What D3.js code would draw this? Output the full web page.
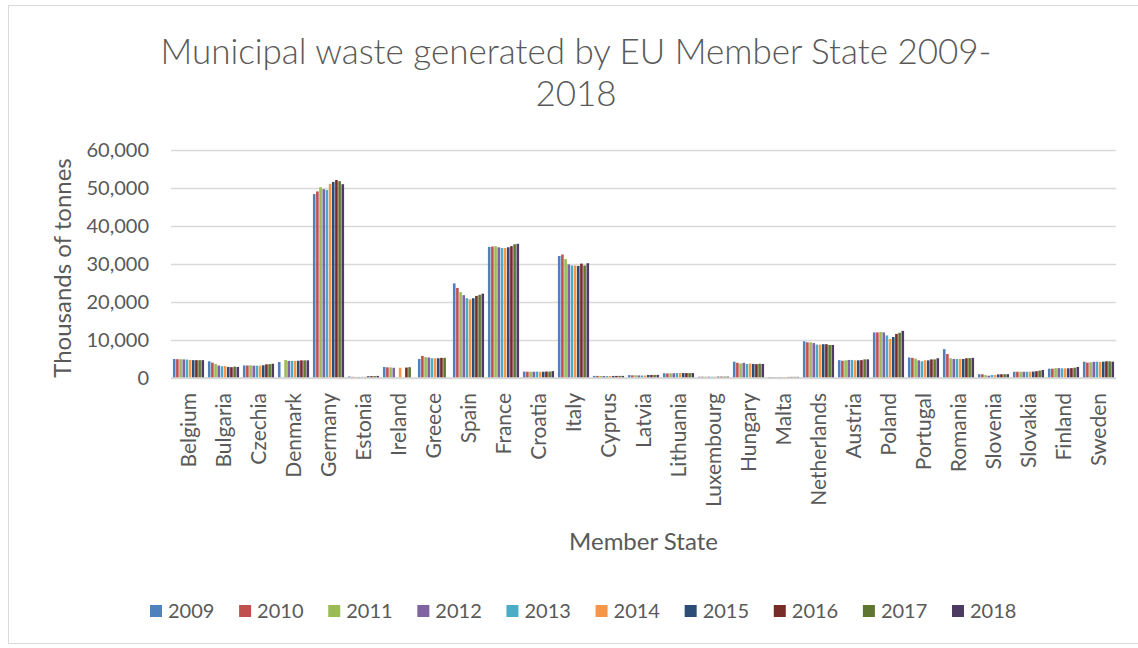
<!DOCTYPE html>
<html>
<head>
<meta charset="utf-8">
<script src="https://cdn.jsdelivr.net/npm/d3@7"></script>
<style>
  html, body { margin: 0; padding: 0; background: #ffffff; }
  svg { display: block; font-family: Lato, "Open Sans", sans-serif; }
</style>
</head>
<body>
<svg id="chart" width="1138" height="648"></svg>
<script>
// Municipal waste generated, thousands of tonnes, by member state and year
const states = ["Belgium", "Bulgaria", "Czechia", "Denmark", "Germany", "Estonia", "Ireland", "Greece",
  "Spain", "France", "Croatia", "Italy", "Cyprus", "Latvia", "Lithuania", "Luxembourg", "Hungary",
  "Malta", "Netherlands", "Austria", "Poland", "Portugal", "Romania", "Slovenia", "Slovakia",
  "Finland", "Sweden"];

const years = ["2009", "2010", "2011", "2012", "2013", "2014", "2015", "2016", "2017", "2018"];

const yearColors = ["#4F81BD", "#C0504D", "#9BBB59", "#8064A2", "#4BACC6",
  "#F79646", "#2C4D75", "#772C2A", "#5F7530", "#4D3B62"];

// One row per state, one value per year (null = not reported)
const belgium     = [5000, 4950, 4950, 4900, 4850, 4750, 4700, 4700, 4700, 4700];
const bulgaria    = [4400, 4050, 3700, 3300, 3100, 3150, 2900, 2850, 3000, 2900];
const czechia     = [3300, 3300, 3350, 3250, 3250, 3250, 3350, 3600, 3650, 3750];
const denmark     = [4200, null, 4750, 4500, 4500, 4500, 4550, 4650, 4650, 4650];
const germany     = [48400, 49100, 50200, 49700, 49500, 51100, 51600, 52100, 51800, 51000];
const estonia     = [400, 310, 300, 280, 300, 330, 470, 490, 510, 550];
const ireland     = [2900, 2800, 2800, 2700, null, 2700, null, 2750, 2850, null];
const greece      = [5000, 5800, 5500, 5400, 5200, 5200, 5200, 5300, 5300, null];
const spain       = [24900, 23700, 22600, 21800, 21000, 20700, 21000, 21600, 21900, 22200];
const france      = [34500, 34600, 34700, 34400, 34200, 34200, 34400, 34700, 35200, 35300];
const croatia     = [1700, 1650, 1650, 1650, 1700, 1650, 1650, 1700, 1700, 1800];
const italy       = [32100, 32500, 31300, 29900, 29600, 29600, 29500, 30100, 29600, 30200];
const cyprus      = [550, 550, 540, 530, 510, 520, 540, 550, 560, 560];
const latvia      = [760, 700, 720, 680, 660, 650, 800, 800, 820, 830];
const lithuania   = [1250, 1200, 1250, 1250, 1300, 1300, 1300, 1300, 1300, 1300];
const luxembourg  = [340, 350, 350, 350, 340, 350, 360, 360, 370, 370];
const hungary     = [4300, 4000, 3800, 4000, 3700, 3800, 3700, 3650, 3750, 3700];
const malta       = [260, 250, 260, 250, 260, 270, 280, 290, 300, 300];
const netherlands = [9650, 9400, 9400, 9200, 8800, 8800, 8900, 8900, 8700, 8700];
const austria     = [4700, 4550, 4650, 4750, 4750, 4650, 4650, 4700, 4900, 4900];
const poland      = [12000, 12000, 12100, 12000, 11200, 10300, 10800, 11600, 11900, 12400];
const portugal    = [5400, 5300, 5100, 4650, 4400, 4650, 4650, 4900, 4900, 5200];
const romania     = [7600, 6300, 5200, 5000, 5000, 5000, 5000, 5200, 5250, 5300];
const slovenia    = [1000, 980, 770, 600, 800, 800, 950, 980, 1000, 1000];
const slovakia    = [1650, 1650, 1650, 1650, 1650, 1650, 1700, 1800, 1950, 2100];
const finland     = [2450, 2450, 2600, 2600, 2550, 2550, 2550, 2600, 2700, 2900];
const sweden      = [4300, 4050, 4150, 4250, 4300, 4250, 4300, 4400, 4400, 4300];

const values = [belgium, bulgaria, czechia, denmark, germany, estonia, ireland, greece, spain,
  france, croatia, italy, cyprus, latvia, lithuania, luxembourg, hungary, malta, netherlands,
  austria, poland, portugal, romania, slovenia, slovakia, finland, sweden];

const yTicks = [0, 10000, 20000, 30000, 40000, 50000, 60000];

const titleLines = ["Municipal waste generated by EU Member State 2009-", "2018"];
const yTitle = "Thousands of tonnes";
const xTitle = "Member State";

// ---- layout ----
const svg = d3.select("#chart");
const textColor = "#595959";
const gridColor = "#d9d9d9";
const plot = { left: 171, right: 1116, top: 150, bottom: 378 };

// chart area frame
svg.append("rect")
  .attr("x", 8.5).attr("y", 5.5)
  .attr("width", 1140).attr("height", 638)
  .attr("fill", "#ffffff")
  .attr("stroke", gridColor).attr("stroke-width", 1);

const x0 = d3.scaleBand()
  .domain(states)
  .range([plot.left, plot.right])
  .paddingInner(0.11)
  .paddingOuter(0.055);

const x1 = d3.scaleBand()
  .domain(years)
  .range([0, x0.bandwidth()])
  .paddingInner(0.18);

const y = d3.scaleLinear()
  .domain([0, 60000])
  .range([plot.bottom, plot.top]);

// title
const title = svg.append("text")
  .attr("x", 576)
  .attr("fill", textColor)
  .attr("font-size", 35)
  .attr("font-weight", 300)
  .attr("text-anchor", "middle");
title.selectAll("tspan")
  .data(titleLines)
  .join("tspan")
  .attr("x", 576)
  .attr("y", (d, i) => 64 + i * 42)
  .text(d => d);

// gridlines + y axis labels
const yAxis = d3.axisLeft(y)
  .tickValues(yTicks)
  .tickSize(-(plot.right - plot.left))
  .tickPadding(22)
  .tickFormat(d3.format(","));

const gy = svg.append("g")
  .attr("transform", `translate(${plot.left},0)`)
  .call(yAxis);
gy.select(".domain").remove();
gy.selectAll(".tick line")
  .attr("stroke", gridColor)
  .attr("stroke-width", 1.4);
gy.selectAll(".tick text")
  .attr("fill", textColor)
  .attr("font-size", 20)
  .attr("font-family", "Lato, sans-serif");

// bars
const groups = svg.append("g")
  .selectAll("g")
  .data(states)
  .join("g")
  .attr("transform", d => `translate(${x0(d)},0)`);

groups.selectAll("rect")
  .data((d, i) => years.map((yr, j) => ({ year: yr, value: values[i][j], color: yearColors[j] }))
    .filter(e => e.value !== null))
  .join("rect")
  .attr("x", d => x1(d.year))
  .attr("width", x1.bandwidth())
  .attr("y", d => y(d.value))
  .attr("height", d => y(0) - y(d.value))
  .attr("fill", d => d.color);

// baseline
svg.append("line")
  .attr("x1", plot.left).attr("x2", plot.right)
  .attr("y1", y(0)).attr("y2", y(0))
  .attr("stroke", gridColor).attr("stroke-width", 1.6);

// category labels (rotated)
const xAxis = d3.axisBottom(x0).tickSize(0).tickPadding(0);
const gx = svg.append("g")
  .attr("transform", `translate(0,${plot.bottom})`)
  .call(xAxis);
gx.select(".domain").remove();
gx.selectAll(".tick text")
  .attr("fill", textColor)
  .attr("font-size", 21)
  .attr("font-family", "Lato, sans-serif")
  .attr("text-anchor", "end")
  .attr("transform", "translate(0,15) rotate(-90)")
  .attr("x", 0)
  .attr("y", 0)
  .attr("dy", "0.36em");

// axis titles
svg.append("text")
  .attr("x", (plot.left + plot.right) / 2)
  .attr("y", 550)
  .attr("text-anchor", "middle")
  .attr("fill", textColor)
  .attr("font-size", 24)
  .text(xTitle);

svg.append("text")
  .attr("transform", `translate(62,${(plot.top + plot.bottom) / 2 + 4}) rotate(-90)`)
  .attr("text-anchor", "middle")
  .attr("dy", "0.36em")
  .attr("fill", textColor)
  .attr("font-size", 24)
  .text(yTitle);

// legend
const legendX = d3.scalePoint()
  .domain(years)
  .range([150, 952]);

const legend = svg.append("g")
  .selectAll("g")
  .data(years)
  .join("g")
  .attr("transform", d => `translate(${legendX(d)},611)`);

legend.append("rect")
  .attr("x", 0).attr("y", -6)
  .attr("width", 12).attr("height", 12)
  .attr("fill", (d, i) => yearColors[i]);

legend.append("text")
  .attr("x", 18)
  .attr("dy", "0.36em")
  .attr("fill", textColor)
  .attr("font-size", 20)
  .text(d => d);
</script>
</body>
</html>
